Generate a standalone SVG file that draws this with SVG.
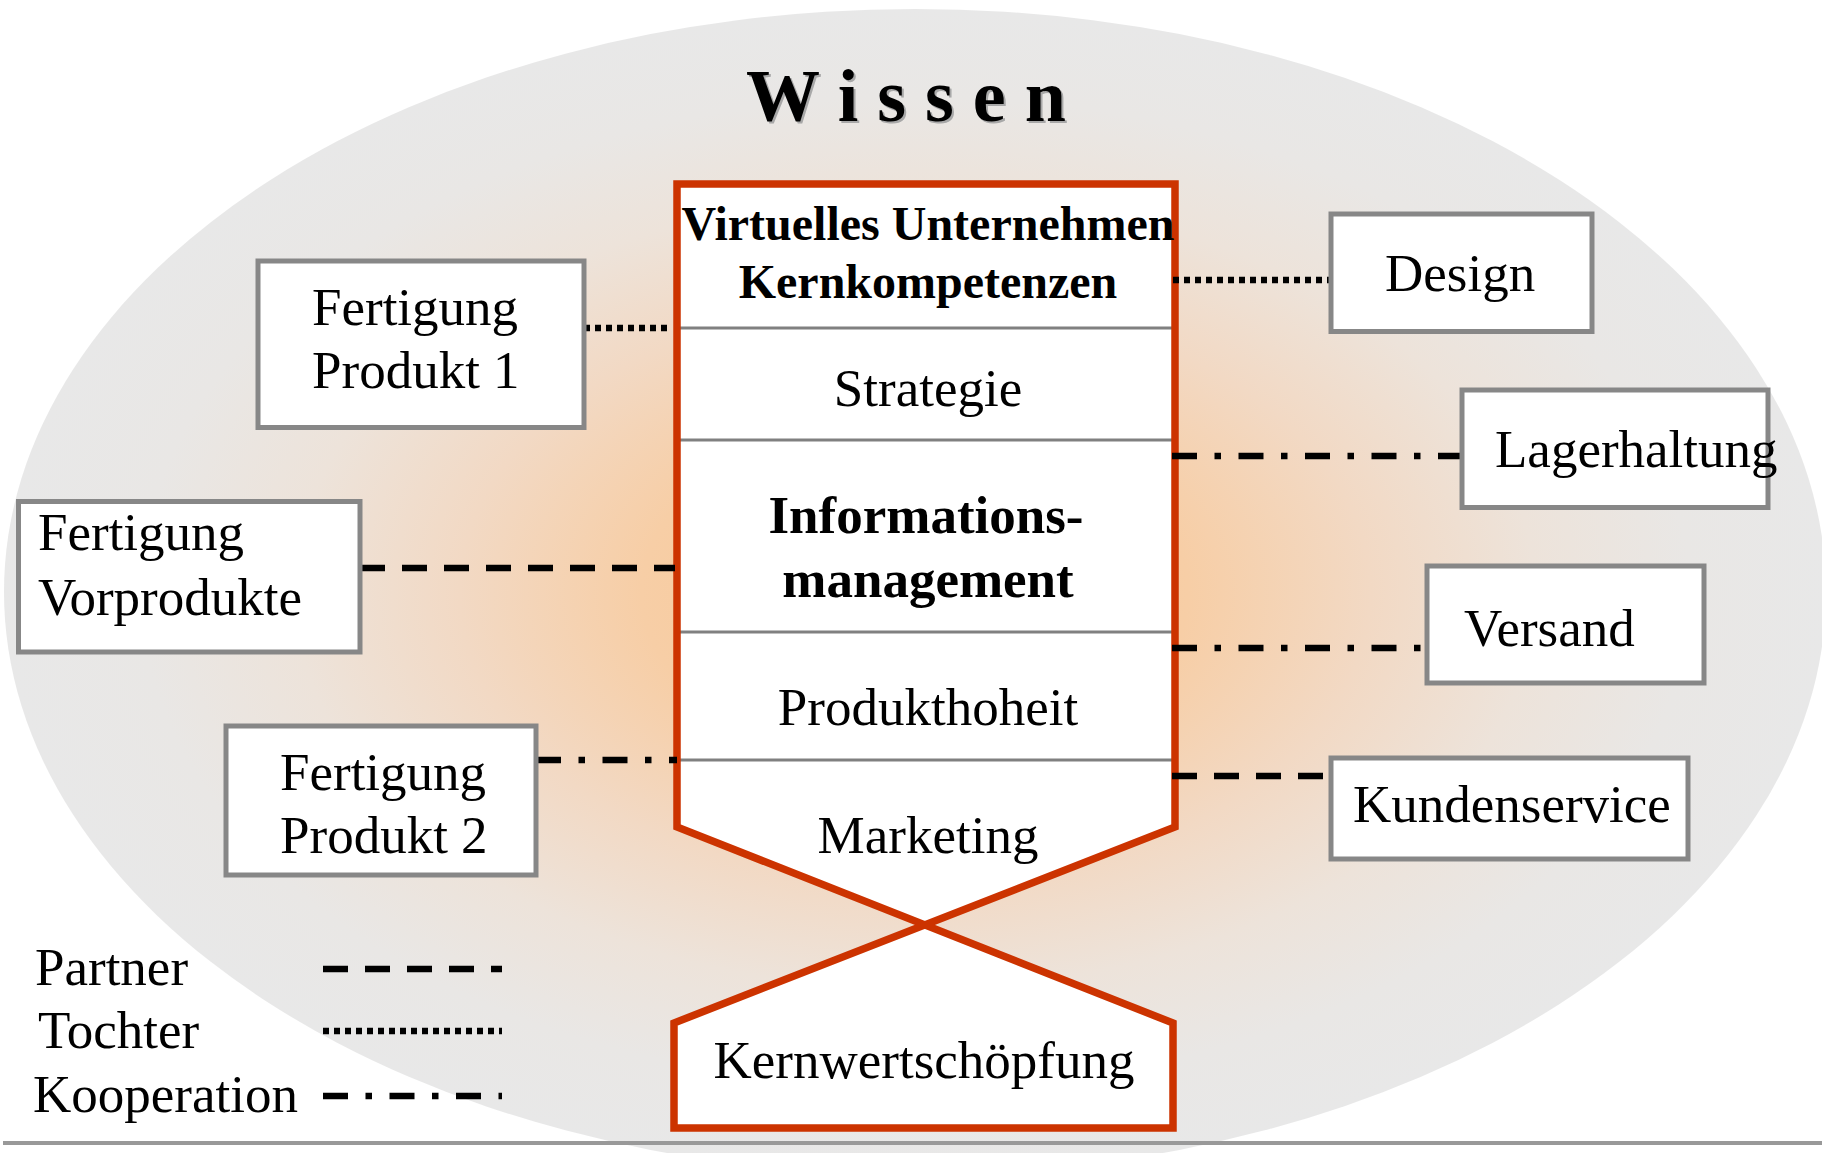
<svg xmlns="http://www.w3.org/2000/svg" width="1822" height="1153" viewBox="0 0 1822 1153">
  <defs>
    <radialGradient id="bg" cx="0.5" cy="0.5" r="0.5">
      <stop offset="0" stop-color="#F9C693"/>
      <stop offset="0.3" stop-color="#F7CEA6"/>
      <stop offset="0.5" stop-color="#F2D9C4"/>
      <stop offset="0.68" stop-color="#EDE3DA"/>
      <stop offset="0.85" stop-color="#E9E7E5"/>
      <stop offset="1" stop-color="#E8E8E8"/>
    </radialGradient>
  </defs>
  <style>
    text { font-family: "Liberation Serif", "Times New Roman", serif; fill: #000; }
    .lbl { font-size: 53px; }
    .bold { font-weight: bold; }
    .box { fill: #fff; stroke: #878787; stroke-width: 5; }
    .div { stroke: #808080; stroke-width: 3; fill: none; }
    .red { fill: none; stroke: #CC3300; stroke-width: 7.5; stroke-linejoin: miter; }
    .wfill { fill: #fff; stroke: none; }
    .con { fill: none; stroke: #000; stroke-width: 6.5; stroke-linecap: butt; }
    .partner { stroke-dasharray: 25 17; }
    .tochter { stroke-dasharray: 6 5; }
    .koop { stroke-dasharray: 25 17.5 6.5 17.5; }
  </style>
  <rect x="0" y="0" width="1822" height="1153" fill="#fff"/>
  <ellipse id="wissen-bg" cx="915" cy="592" rx="911" ry="583" fill="url(#bg)"/>

  <g id="title">
    <text x="748" y="123" font-size="74" font-weight="bold" letter-spacing="19" style="fill:#A8A8A8">Wissen</text>
    <text x="746" y="121" font-size="74" font-weight="bold" letter-spacing="19">Wissen</text>
  </g>

  <g id="core">
    <polygon class="wfill" points="677,184 1175,184 1175,827 925,925 677,827"/>
    <polygon class="wfill" points="925,925 1173,1023 1173,1128 674,1128 674,1023"/>
    <path class="div" d="M677,328 H1175 M677,440 H1175 M677,632 H1175 M677,760 H1175"/>
    <path class="red" d="M1173,1023 L677,827 L677,184 L1175,184 L1175,827 L674,1023 L674,1128 L1173,1128 Z"/>
  </g>

  <g id="connectors">
    <path class="con tochter" d="M584,328 H672"/>
    <path class="con partner" d="M360,568 H675"/>
    <path class="con koop" d="M536,760 H677"/>
    <path class="con tochter" d="M1173,280 H1331"/>
    <path class="con koop" d="M1172,456 H1462"/>
    <path class="con koop" d="M1172,648 H1427"/>
    <path class="con partner" d="M1172,776 H1331"/>
  </g>

  <g id="kernkompetenzen">
    <text class="bold" x="928" y="240" font-size="48" text-anchor="middle">Virtuelles Unternehmen</text>
    <text class="bold" x="928" y="298" font-size="48" text-anchor="middle">Kernkompetenzen</text>
  </g>
  <g id="strategie"><text class="lbl" x="928" y="406" text-anchor="middle">Strategie</text></g>
  <g id="informationsmanagement">
    <text class="lbl bold" x="926" y="533" text-anchor="middle">Informations-</text>
    <text class="lbl bold" x="928" y="597" text-anchor="middle">management</text>
  </g>
  <g id="produkthoheit"><text class="lbl" x="928" y="725" text-anchor="middle">Produkthoheit</text></g>
  <g id="marketing"><text class="lbl" x="928" y="853" text-anchor="middle">Marketing</text></g>
  <g id="kernwertschoepfung"><text class="lbl" x="924" y="1078" text-anchor="middle">Kernwertschöpfung</text></g>

  <g id="fertigung-produkt-1">
    <rect class="box" x="258" y="261" width="326" height="166.5"/>
    <text class="lbl" x="312" y="325">Fertigung</text>
    <text class="lbl" x="312" y="388">Produkt 1</text>
  </g>
  <g id="fertigung-vorprodukte">
    <rect class="box" x="18.5" y="501.5" width="341.5" height="150.5"/>
    <text class="lbl" x="38" y="550">Fertigung</text>
    <text class="lbl" x="38" y="615">Vorprodukte</text>
  </g>
  <g id="fertigung-produkt-2">
    <rect class="box" x="226" y="726" width="310" height="149"/>
    <text class="lbl" x="280" y="790">Fertigung</text>
    <text class="lbl" x="280" y="853">Produkt 2</text>
  </g>
  <g id="design">
    <rect class="box" x="1331" y="214" width="261" height="117.5"/>
    <text class="lbl" x="1385" y="291">Design</text>
  </g>
  <g id="lagerhaltung">
    <rect class="box" x="1462" y="390" width="306" height="117.5"/>
    <text class="lbl" x="1495" y="467">Lagerhaltung</text>
  </g>
  <g id="versand">
    <rect class="box" x="1427" y="566" width="277" height="117"/>
    <text class="lbl" x="1464" y="646">Versand</text>
  </g>
  <g id="kundenservice">
    <rect class="box" x="1331" y="758" width="357" height="101"/>
    <text class="lbl" x="1353" y="822">Kundenservice</text>
  </g>

  <g id="legend">
    <text class="lbl" x="35" y="985">Partner</text>
    <text class="lbl" x="38" y="1048">Tochter</text>
    <text class="lbl" x="33" y="1112">Kooperation</text>
    <path class="con partner" d="M323,969 H502"/>
    <path class="con tochter" d="M323,1031 H502"/>
    <path class="con koop" d="M323,1096 H502"/>
  </g>

  <line id="baseline" x1="3" y1="1143" x2="1822" y2="1143" stroke="#999" stroke-width="4"/>
</svg>
